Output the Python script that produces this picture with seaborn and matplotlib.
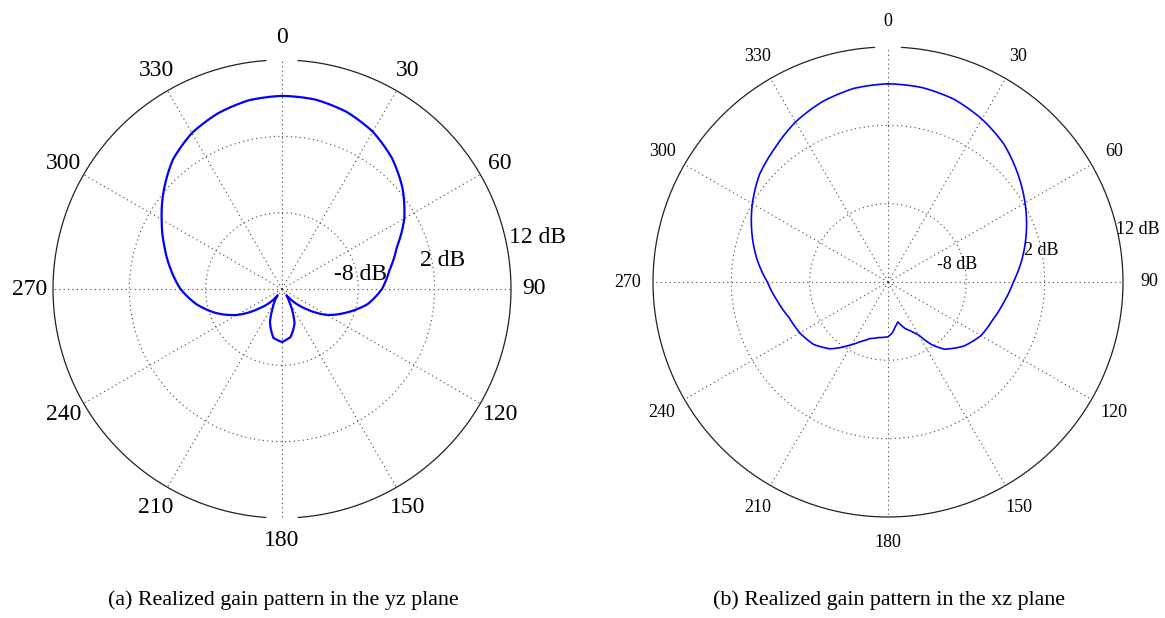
import numpy as np
import pandas as pd
import matplotlib
matplotlib.use("Agg")
import matplotlib.pyplot as plt
import seaborn as sns

# Realized gain (dB) versus angle (degrees, clockwise from top)
yz_angle = [0, 10, 20, 30, 40, 50, 60, 70, 80, 90, 100, 110, 120, 130, 140, 145,
            150, 155, 160, 170, 180, 190, 200, 206, 212, 215,
            220, 230, 240, 250, 260, 270, 280, 290, 300, 310, 320, 330, 340, 350, 360]
yz_gain = [7.3, 7.2, 6.7, 5.8, 4.4, 2.6, 0.5, -2.0, -3.7, -4.9, -6.6, -9.0, -11.2, -14.0, -16.2, -17.0,
           -16.1, -14.7, -13.2, -11.6, -11.05, -11.5, -13.4, -15.2, -16.3, -17.0,
           -16.0, -14.0, -11.2, -8.8, -6.6, -4.7, -3.2, -1.6, 0.2, 2.2, 4.2, 5.6, 6.5, 7.1, 7.3]

xz_angle = [0, 10, 20, 30, 40, 50, 60, 70, 80, 90, 100, 110, 120, 130, 140, 145,
            150, 155, 160, 166, 171, 175, 178, 180, 190, 198, 205, 211, 221,
            230, 240, 250, 260, 270, 280, 290, 300, 310, 320, 330, 340, 350, 360]
xz_gain = [7.3, 7.2, 6.8, 6.0, 5.0, 3.6, 2.2, 0.8, -0.6, -2.0, -3.0, -3.8, -4.3, -5.3, -6.8, -8.2,
           -10.2, -11.1, -11.7, -12.75, -12.2, -11.5, -11.2, -11.0, -10.8, -10.4, -9.6, -8.6, -6.7,
           -5.6, -5.0, -4.6, -3.7, -2.6, -1.0, 0.5, 2.0, 3.4, 4.4, 5.6, 6.5, 7.1, 7.3]

angle_ticks = [0, 30, 60, 90, 120, 150, 180, 210, 240, 270, 300, 330]
ring_values = [-8, 2, 12]
ring_labels = ["-8 dB", "2 dB", "12 dB"]
r_min, r_max = -18, 12

captions = ["(a) Realized gain pattern in the yz plane",
            "(b) Realized gain pattern in the xz plane"]

sns.set_theme(style="white")
plt.rcParams["font.family"] = ["Liberation Serif", "DejaVu Serif"]
plt.rcParams["text.color"] = "black"

W, H = 1165, 618
fig = plt.figure(figsize=(W / 100, H / 100), dpi=100)
fig.patch.set_facecolor("white")


def polar_panel(rect, angles, gains, label_size, lw, label_r, ring_pos, gaps):
    ax = fig.add_axes(rect, projection="polar")
    ax.set_facecolor("white")
    ax.set_theta_zero_location("N")
    ax.set_theta_direction(-1)
    ax.set_ylim(r_min, r_max)

    ax.set_xticks(np.deg2rad(angle_ticks))
    ax.set_xticklabels([])
    ax.set_yticks(ring_values[:-1])
    ax.set_yticklabels([])
    ax.grid(True, linestyle=(0, (1, 3)), color="#444444", linewidth=0.8)
    ax.spines["polar"].set_visible(False)

    # outer ring, with small breaks at the top (and bottom)
    th = np.linspace(0, 2 * np.pi, 1441)
    deg = np.rad2deg(th)
    outer = np.full_like(th, r_max, dtype=float)
    for c, half in gaps:
        d = np.abs((deg - c + 180) % 360 - 180)
        outer[d < half] = np.nan
    ax.plot(th, outer, color="#222222", linewidth=0.9, clip_on=False)

    df = pd.DataFrame({"theta": np.deg2rad(angles), "gain": gains})
    n_before = len(ax.lines)
    sns.lineplot(data=df, x="theta", y="gain", ax=ax, color="#0000ff",
                 linewidth=lw, sort=False, estimator=None)
    # follow the polar grid between samples instead of straight chords
    for ln in ax.lines[n_before:]:
        ln.get_path()._interpolation_steps = 24
    ax.set_xlabel("")
    ax.set_ylabel("")

    for a in angle_ticks:
        ax.text(np.deg2rad(a), label_r, str(a), ha="center", va="center",
                fontsize=label_size, color="black", clip_on=False)
    for (ang, rr), txt in zip(ring_pos, ring_labels):
        ax.text(np.deg2rad(ang), rr, txt, ha="center", va="center",
                fontsize=label_size, color="black", clip_on=False)
    return ax


# left panel: centre (282, 289) px, radius 229 px
R1, cx1, cy1 = 229, 282, 289
polar_panel([(cx1 - R1) / W, (H - cy1 - R1) / H, 2 * R1 / W, 2 * R1 / H],
            yz_angle, yz_gain, 17, 1.6, 15.0,
            [(79.6, -7.5), (79.8, 3.4), (78.7, 16.1)],
            [(0, 3.8), (180, 3.8)])

# right panel: centre (888, 282) px, radius 235 px
R2, cx2, cy2 = 235, 888, 282
polar_panel([(cx2 - R2) / W, (H - cy2 - R2) / H, 2 * R2 / W, 2 * R2 / H],
            xz_angle, xz_gain, 13, 1.2, 15.3,
            [(76.0, -8.9), (78.5, 1.9), (78.1, 14.6)],
            [(0, 3.2)])

fig.text(283 / W, (H - 600) / H, captions[0], ha="center", va="center",
         fontsize=15.8, color="black")
fig.text(889 / W, (H - 600) / H, captions[1], ha="center", va="center",
         fontsize=15.8, color="black")

fig.savefig("out.png", dpi=100, facecolor="white")
